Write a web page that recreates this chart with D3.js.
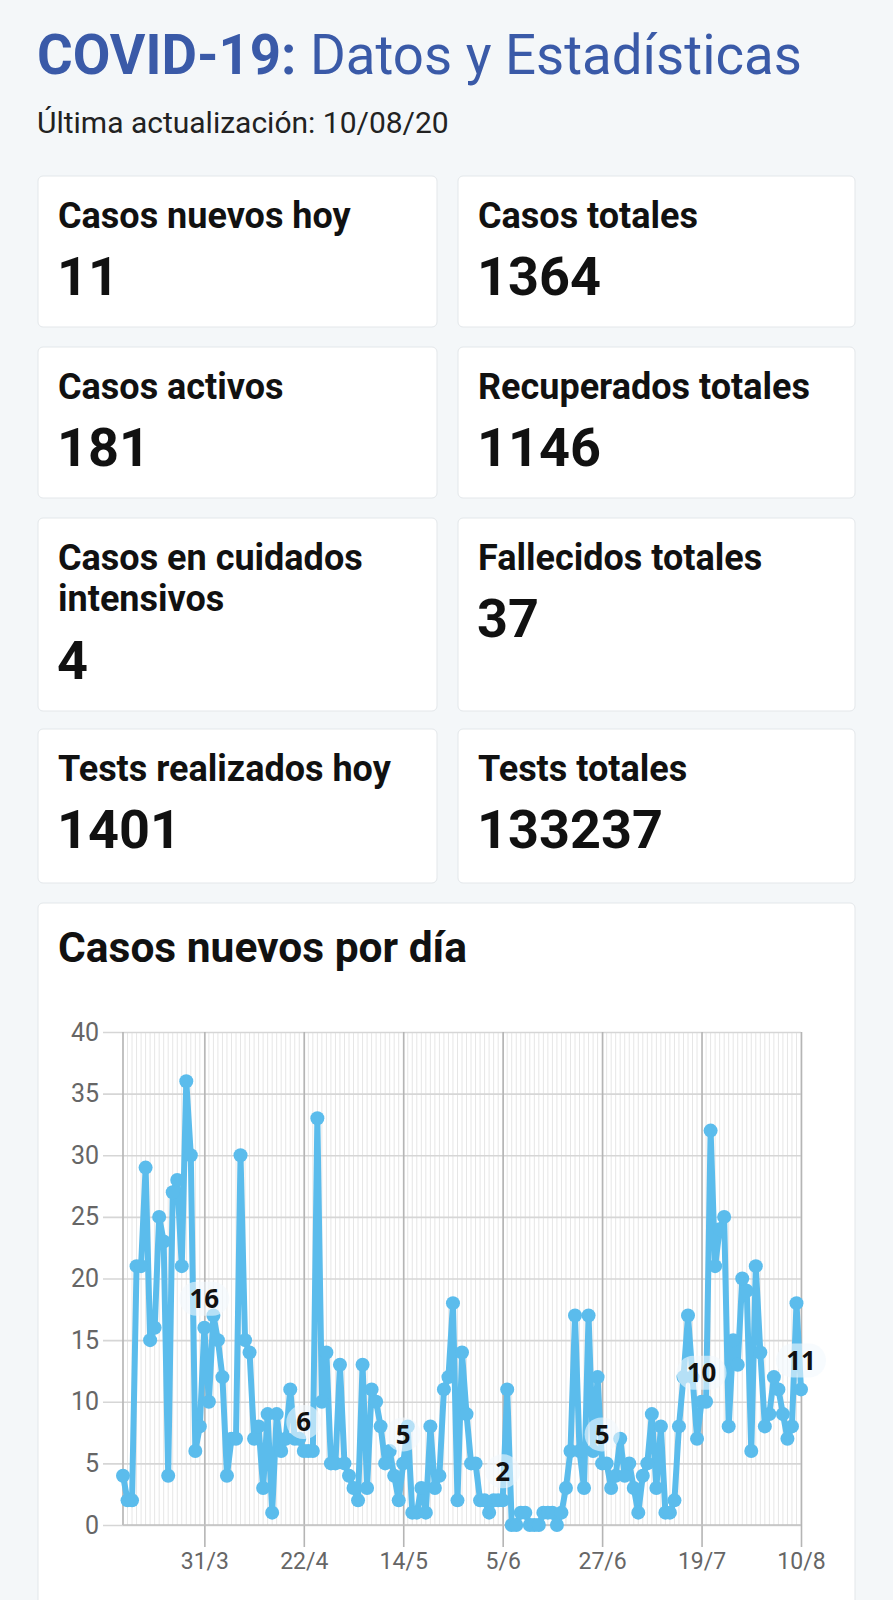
<!DOCTYPE html>
<html>
<head>
<meta charset="utf-8">
<script src="https://cdn.jsdelivr.net/npm/d3@7"></script>
<style>
  body { margin: 0; background: #f4f7f9; font-family: Roboto, sans-serif; }
  #app { width: 893px; height: 1600px; }
</style>
</head>
<body>
<div id="app"></div>
<script>
// --- data ---
let startDay = "13/3/2020";
let newCases = [
    4, 2, 2, 21, 21, 29, 15, 16, 25, 23,
    4, 27, 28, 21, 36, 30, 6, 8, 16, 10,
    17, 15, 12, 4, 7, 7, 30, 15, 14, 7,
    8, 3, 9, 1, 9, 6, 7, 11, 7, 7,
    6, 6, 6, 33, 10, 14, 5, 5, 13, 5,
    4, 3, 2, 13, 3, 11, 10, 8, 5, 6,
    4, 2, 5, 8, 1, 1, 3, 1, 8, 3,
    4, 11, 12, 18, 2, 14, 9, 5, 5, 2,
    2, 1, 2, 2, 2, 11, 0, 0, 1, 1,
    0, 0, 0, 1, 1, 1, 0, 1, 3, 6,
    17, 6, 3, 17, 6, 12, 5, 5, 3, 4,
    7, 4, 5, 3, 1, 4, 5, 9, 3, 8,
    1, 1, 2, 8, 12, 17, 12, 7, 10, 10,
    32, 21, 24, 25, 8, 15, 13, 20, 19, 6,
    21, 14, 8, 9, 12, 11, 9, 7, 8, 18,
    11
];
let xTickLabels = ["31/3", "22/4", "14/5", "5/6", "27/6", "19/7", "10/8"];
let yTicks = [0, 5, 10, 15, 20, 25, 30, 35, 40];

let cardLabels = [
    ["Casos nuevos hoy"], ["Casos totales"],
    ["Casos activos"], ["Recuperados totales"],
    ["Casos en cuidados", "intensivos"], ["Fallecidos totales"],
    ["Tests realizados hoy"], ["Tests totales"]
];
let cardValues = ["11", "1364", "181", "1146", "4", "37", "1401", "133237"];

let titleBold = "COVID-19:";
let titleRest = " Datos y Estadísticas";
let updated = "Última actualización: 10/08/20";
let chartTitle = "Casos nuevos por día";

let dateParser = d3.timeParse("%d/%m/%Y");

// ---------------------------------------------------------------
let svg = d3.select("#app").append("svg")
    .attr("width", 893)
    .attr("height", 1600);

// header
let title = svg.append("text")
    .attr("x", 37)
    .attr("y", 74)
    .attr("fill", "#3a5aa8")
    .attr("font-size", "54.6px");
title.append("tspan").attr("font-weight", 700).text(titleBold);
title.append("tspan").attr("font-weight", 400).text(titleRest);

svg.append("text")
    .attr("x", 37)
    .attr("y", 133)
    .attr("fill", "#222")
    .attr("font-size", "30px")
    .text(updated);

// cards
let rowTops = [176, 347, 518, 729];
let rowHeights = [151, 151, 193, 154];
let colLefts = [38, 458];
let colWidths = [399, 397];

cardLabels.forEach(function(lines, i) {
    let row = Math.floor(i / 2), col = i % 2;
    let x = colLefts[col], y = rowTops[row];
    let g = svg.append("g").attr("transform", `translate(${x},${y})`);
    g.append("rect")
        .attr("width", colWidths[col])
        .attr("height", rowHeights[row])
        .attr("rx", 5)
        .attr("fill", "white")
        .attr("stroke", "#e3e7ea");
    lines.forEach(function(l, j) {
        g.append("text")
            .attr("x", 20)
            .attr("y", 52 + j * 41)
            .attr("font-size", "36px")
            .attr("font-weight", 700)
            .attr("fill", "#111")
            .text(l);
    });
    g.append("text")
        .attr("x", 19)
        .attr("y", 119 + (lines.length - 1) * 42)
        .attr("font-size", "54px")
        .attr("font-weight", 700)
        .attr("fill", "#111")
        .text(cardValues[i]);
});

// chart card
svg.append("rect")
    .attr("x", 38).attr("y", 903)
    .attr("width", 817).attr("height", 760)
    .attr("rx", 5)
    .attr("fill", "white")
    .attr("stroke", "#e3e7ea");

svg.append("text")
    .attr("x", 58)
    .attr("y", 962)
    .attr("font-size", "42.5px")
    .attr("font-weight", 700)
    .attr("fill", "#111")
    .text(chartTitle);

// scales
let dates = newCases.map((d, i) => d3.timeDay.offset(dateParser(startDay), i));
let tickDates = xTickLabels.map(s => dateParser(s + "/2020"));

let x = d3.scaleTime()
    .domain([dates[0], dates[dates.length - 1]])
    .range([123, 801]);
let y = d3.scaleLinear()
    .domain([0, 40])
    .range([1525, 1032]);

// daily minor grid
svg.append("g").selectAll("line")
    .data(dates)
    .enter().append("line")
    .attr("x1", d => x(d)).attr("x2", d => x(d))
    .attr("y1", y(40)).attr("y2", y(0))
    .attr("stroke", "#e6e6e6")
    .attr("stroke-width", 1);

// y axis + horizontal grid
let yAxis = svg.append("g")
    .attr("transform", "translate(123,0)")
    .call(d3.axisLeft(y).tickValues(yTicks).tickSize(-678).tickSizeOuter(0).tickPadding(24));
yAxis.select(".domain").remove();
yAxis.selectAll(".tick line")
    .attr("x1", -20)
    .attr("stroke", "#d6d6d6")
    .attr("stroke-width", 1.6);
yAxis.selectAll(".tick text")
    .attr("x", -24)
    .attr("fill", "#666")
    .attr("font-size", "25px")
    .attr("font-family", "Roboto, sans-serif");

// x axis + major vertical grid
let xAxis = svg.append("g")
    .attr("transform", "translate(0,1525)")
    .call(d3.axisBottom(x).tickValues(tickDates)
        .tickFormat(d3.timeFormat("%-d/%-m")).tickSize(22).tickSizeOuter(0).tickPadding(6));
xAxis.select(".domain").remove();
xAxis.selectAll(".tick line")
    .attr("y1", y(40) - 1525)
    .attr("stroke", "#b5b5b5")
    .attr("stroke-width", 1.6);
xAxis.selectAll(".tick text")
    .attr("fill", "#666")
    .attr("font-size", "23px")
    .attr("font-family", "Roboto, sans-serif");

// left edge + baseline
svg.append("line")
    .attr("x1", x(dates[0])).attr("x2", x(dates[0]))
    .attr("y1", y(40)).attr("y2", y(0))
    .attr("stroke", "#b5b5b5").attr("stroke-width", 1.6);
svg.append("line")
    .attr("x1", x(dates[0])).attr("x2", 801)
    .attr("y1", y(0)).attr("y2", y(0))
    .attr("stroke", "#c2c2c2").attr("stroke-width", 1.6);

// series
let lineColor = "#5bbcec";
let line = d3.line()
    .x((d, i) => x(dates[i]))
    .y(d => y(d));

svg.append("path")
    .datum(newCases)
    .attr("d", line)
    .attr("fill", "none")
    .attr("stroke", lineColor)
    .attr("stroke-width", 6)
    .attr("stroke-linejoin", "round");

svg.append("g").selectAll("circle")
    .data(newCases)
    .enter().append("circle")
    .attr("cx", (d, i) => x(dates[i]))
    .attr("cy", d => y(d))
    .attr("r", 7)
    .attr("fill", lineColor);

// data labels on the tick days
let labelled = dates.map((d, i) => ({date: d, value: newCases[i]}))
    .filter(d => tickDates.some(t => +t === +d.date));

let lab = svg.append("g").selectAll("g")
    .data(labelled)
    .enter().append("g")
    .attr("transform", d => `translate(${x(d.date)},${y(d.value) - 29})`);
lab.append("rect")
    .attr("x", d => -(String(d.value).length * 7.5 + 10))
    .attr("y", -17)
    .attr("width", d => String(d.value).length * 15 + 20)
    .attr("height", 34)
    .attr("rx", 17)
    .attr("fill", "rgba(242,249,253,0.6)");
lab.append("text")
    .attr("text-anchor", "middle")
    .attr("dy", "0.36em")
    .attr("font-size", "26px")
    .attr("font-weight", 700)
    .attr("font-family", "'Noto Sans', sans-serif")
    .attr("fill", "#111")
    .text(d => d.value);
</script>
</body>
</html>
